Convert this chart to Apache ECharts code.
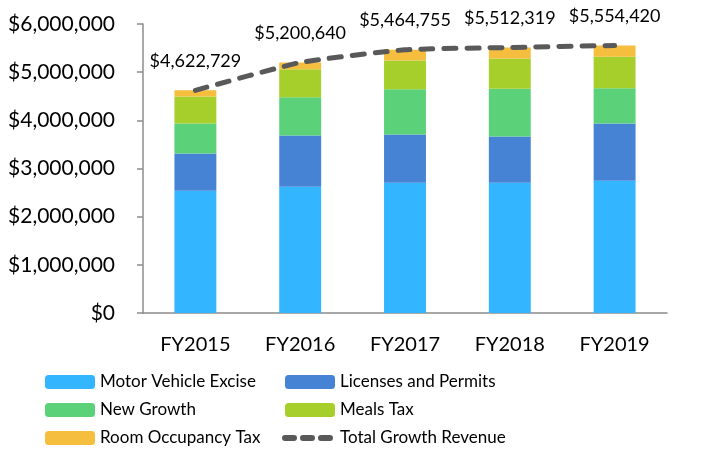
<!DOCTYPE html>
<html>
<head>
<meta charset="utf-8">
<script src="https://cdn.jsdelivr.net/npm/echarts@6/dist/echarts.min.js"></script>
<style>
  html, body { margin: 0; padding: 0; background: #fff; }
  #chart { width: 704px; height: 450px; }
</style>
</head>
<body>
<div id="chart"></div>
<script>
var years = ["FY2015", "FY2016", "FY2017", "FY2018", "FY2019"];
var motorVehicle = [2537000, 2620000, 2703000, 2703000, 2745000];
var licenses = [774000, 1065000, 1003000, 961000, 1189000];
var newGrowth = [623000, 796000, 941000, 990000, 734000];
var mealsTax = [560000, 581000, 594000, 629000, 650000];
var roomTax = [128729, 138640, 223755, 229319, 236420];
var totals = [4622729, 5200640, 5464755, 5512319, 5554420];

var font = "Lato";

function money(v) {
  return "$" + v.toString().replace(/\B(?=(\d{3})+(?!\d))/g, ",");
}

function barSeries(name, data, color) {
  return {
    name: name,
    type: "bar",
    stack: "rev",
    data: data,
    barWidth: "40%",
    itemStyle: { color: color },
  };
}

var legendText = { fontSize: 17, color: "#000", lineHeight: 20, fontFamily: font };

var chart = echarts.init(document.getElementById("chart"));
chart.setOption({
  animation: false,
  textStyle: { fontFamily: font },
  grid: {
    left: 143,
    right: 37,
    top: 24,
    bottom: 137,
  },
  legend: [
    {
      orient: "vertical",
      left: 45,
      top: 372,
      height: 80,
      padding: 0,
      itemWidth: 50,
      itemHeight: 14,
      itemGap: 8,
      textStyle: legendText,
      data: ["Motor Vehicle Excise", "New Growth", "Room Occupancy Tax"],
    },
    {
      orient: "vertical",
      left: 282,
      top: 372,
      height: 80,
      padding: 0,
      itemWidth: 50,
      itemHeight: 14,
      itemGap: 8,
      textStyle: legendText,
      data: [
        "Licenses and Permits",
        "Meals Tax",
        {
          name: "Total Growth Revenue",
          itemStyle: { opacity: 0 },
          lineStyle: { width: 6, type: [9, 9], cap: "round", color: "#595959" },
        },
      ],
    },
  ],
  xAxis: {
    type: "category",
    data: years,
    axisLine: { lineStyle: { color: "#8c8c8c", width: 1.5 } },
    axisTick: { length: 7, lineStyle: { color: "#8c8c8c", width: 1.5 } },
    axisLabel: { fontSize: 20, color: "#000", margin: 22, fontFamily: font },
  },
  yAxis: {
    type: "value",
    min: 0,
    max: 6000000,
    interval: 1000000,
    splitLine: { show: false },
    axisLine: { show: true, lineStyle: { color: "#8c8c8c", width: 1.5 } },
    axisTick: { show: true, length: 6, lineStyle: { color: "#8c8c8c", width: 1.5 } },
    axisLabel: {
      fontSize: 21,
      color: "#000",
      margin: 28,
      fontFamily: font,
      formatter: money,
    },
  },
  series: [
    barSeries("Motor Vehicle Excise", motorVehicle, "#33b5ff"),
    barSeries("Licenses and Permits", licenses, "#4683d4"),
    barSeries("New Growth", newGrowth, "#5bd17a"),
    barSeries("Meals Tax", mealsTax, "#a6cf2b"),
    barSeries("Room Occupancy Tax", roomTax, "#f5be3f"),
    {
      name: "Total Growth Revenue",
      type: "line",
      data: totals,
      symbol: "circle",
      symbolSize: 1,
      showSymbol: true,
      smooth: 0.15,
      z: 5,
      lineStyle: { color: "#595959", width: 5, type: [12, 11], cap: "round" },
      itemStyle: { color: "rgba(0,0,0,0)" },
      labelLayout: { hideOverlap: false },
      label: {
        show: true,
        position: "top",
        distance: 20,
        fontSize: 18,
        color: "#000",
        fontFamily: font,
        formatter: function (p) {
          return money(p.value);
        },
      },
    },
  ],
});
</script>
</body>
</html>
